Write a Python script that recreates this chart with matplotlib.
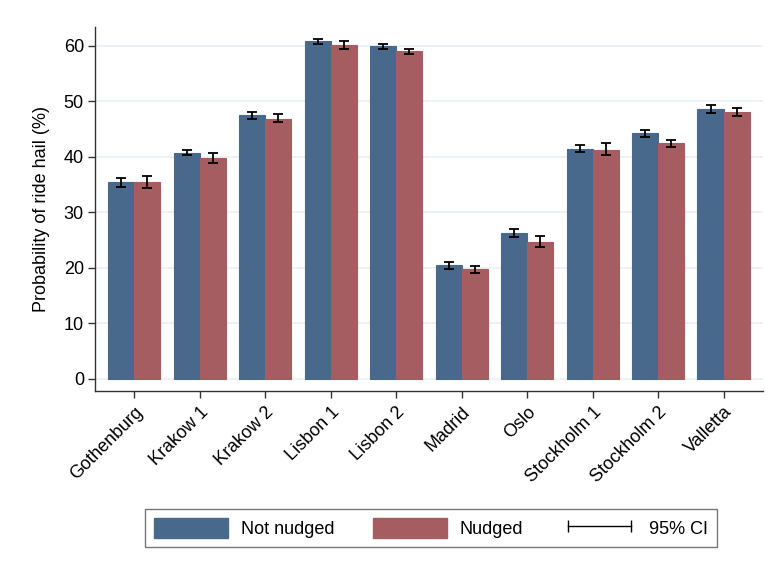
import matplotlib
matplotlib.use("Agg")
import matplotlib.pyplot as plt
import numpy as np
from matplotlib.patches import Patch
from matplotlib.lines import Line2D

plt.rcParams['font.family'] = ['Liberation Sans', 'DejaVu Sans']

# ride hail probability by site, with 95% CI bounds
sites = ["Gothenburg", "Krakow 1", "Krakow 2", "Lisbon 1", "Lisbon 2",
         "Madrid", "Oslo", "Stockholm 1", "Stockholm 2", "Valletta"]
not_nudged = [35.4, 40.6, 47.5, 60.8, 60.0, 20.5, 26.3, 41.4, 44.2, 48.6]
not_nudged_lo = [34.6, 40.3, 46.8, 60.4, 59.5, 19.8, 25.6, 40.9, 43.5, 47.9]
not_nudged_hi = [36.1, 41.2, 48.1, 61.2, 60.4, 21.1, 26.9, 42.1, 44.9, 49.4]
nudged = [35.4, 39.8, 46.9, 60.2, 59.0, 19.7, 24.7, 41.2, 42.4, 48.0]
nudged_lo = [34.3, 38.8, 46.3, 59.4, 58.5, 19.0, 23.7, 40.3, 41.7, 47.3]
nudged_hi = [36.6, 40.7, 47.7, 60.9, 59.4, 20.3, 25.7, 42.4, 43.0, 48.8]
yticks = [0, 10, 20, 30, 40, 50, 60]

blue = "#48698b"
red = "#a65d61"
fs = 13

fig = plt.figure(figsize=(7.71, 5.63), dpi=100)
ax = fig.add_axes([0.1232, 0.306, 0.8664, 0.646])

x = np.arange(len(sites))
w = 0.4

for vals, lo, hi, col, off in [(not_nudged, not_nudged_lo, not_nudged_hi, blue, -w / 2),
                               (nudged, nudged_lo, nudged_hi, red, w / 2)]:
    vals = np.array(vals)
    ax.bar(x + off, vals, width=w, color=col, edgecolor=col, linewidth=0.8, zorder=2)
    err = [vals - np.array(lo), np.array(hi) - vals]
    ax.errorbar(x + off, vals, yerr=err, fmt="none", ecolor="black",
                elinewidth=1.3, capsize=3.6, capthick=1.3, zorder=3)

ax.set_xlim(-0.6, 9.6)
ax.set_ylim(-2.2, 63.4)
ax.set_yticks(yticks)
ax.yaxis.grid(True, color="#e9f0f3", linewidth=1.2, zorder=0)
ax.set_axisbelow(True)

ax.set_xticks(x)
ax.set_xticklabels(sites, rotation=45, ha="right", rotation_mode="anchor", fontsize=fs)
ax.tick_params(axis="y", labelsize=fs, length=5, width=1, color="#333333", pad=3)
ax.tick_params(axis="x", length=5, width=1, color="#333333", pad=4)
ax.set_ylabel("Probability of ride hail (%)", fontsize=fs, labelpad=10)

for side in ["top", "right"]:
    ax.spines[side].set_visible(False)
for side in ["left", "bottom"]:
    ax.spines[side].set_color("#333333")
    ax.spines[side].set_linewidth(1)

handles = [Patch(facecolor=blue, edgecolor=blue),
           Patch(facecolor=red, edgecolor=red),
           Line2D([0, 1], [0, 0], color="black", linewidth=1, marker="|",
                  markersize=8, markeredgewidth=1)]
labels = ["Not nudged", "Nudged", "95% CI"]
leg = fig.legend(handles, labels, loc="center", bbox_to_anchor=(0.559, 0.0625),
                 ncol=3, frameon=True, fancybox=False, fontsize=fs,
                 handlelength=4.1, handleheight=1.35, handletextpad=0.7,
                 columnspacing=2.15, numpoints=2, borderpad=0.5)
leg.get_frame().set_edgecolor("#555555")
leg.get_frame().set_linewidth(1)

fig.savefig("out.png", dpi=100)
